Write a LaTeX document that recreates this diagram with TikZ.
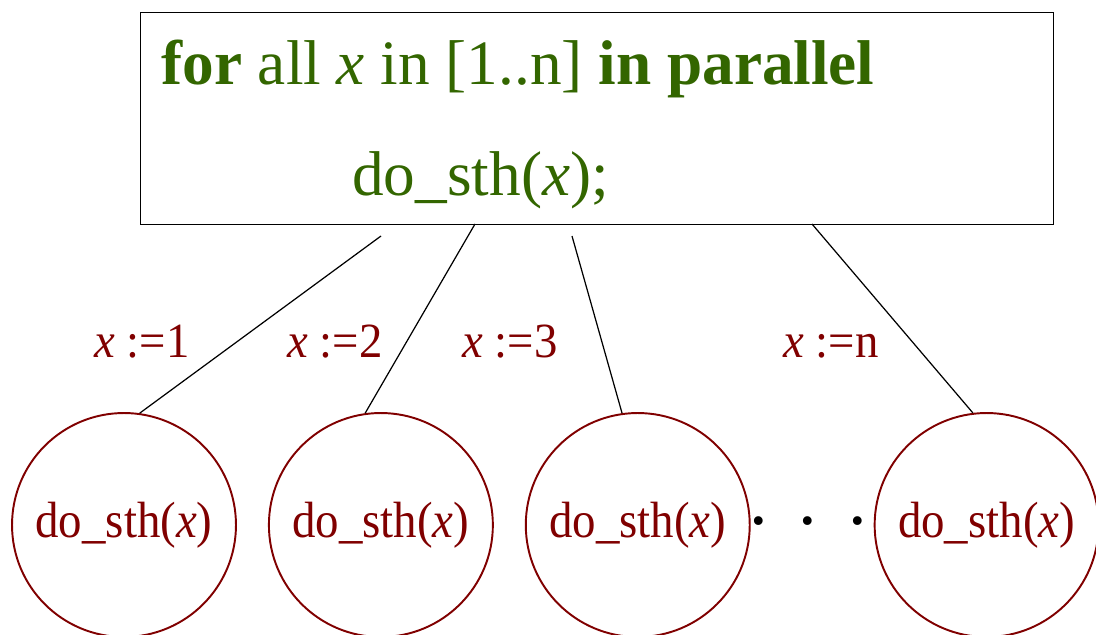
\documentclass[tikz,border=0pt]{standalone}
\usepackage{fontspec}
\setmainfont{Liberation Serif}
\usetikzlibrary{positioning}
\definecolor{codegreen}{RGB}{51,102,0}
\definecolor{taskred}{RGB}{128,0,0}

\begin{document}
\begin{tikzpicture}[
  x=0.02cm, y=-0.02cm,
  loopbox/.style={draw, line width=0.85pt, minimum width=18.26cm, minimum height=4.24cm, inner sep=0pt},
  code/.style={text=codegreen, inner sep=0pt, font=\fontsize{36}{40}\selectfont},
  task/.style={circle, draw=taskred, line width=1.1pt, minimum size=4.48cm, inner sep=0pt, text=taskred,
    font=\fontsize{29}{32}\selectfont\addfontfeature{FakeStretch=0.92}},
  assign/.style={text=taskred, inner sep=0pt, font=\fontsize{28}{31}\selectfont\addfontfeature{FakeStretch=0.95}},
  fork/.style={line width=0.7pt},
]
\useasboundingbox (0,0) rectangle (1096,635);

% parallel loop
\node[loopbox, anchor=north west] (loop) at (140,12) {};
\node[code, anchor=base west] (head) at (161,85) {\textbf{for} all \textit{x} in [1..n] \textbf{in parallel}};
\node[code, anchor=base west] (body) at (352,195) {do\_sth(\textit{x});};

% tasks
\node[task] (c1) at (124,525) {do\_sth(\textit{x})};
\node[task, right=0.62cm of c1] (c2) {do\_sth(\textit{x})};
\node[task, right=0.62cm of c2] (c3) {do\_sth(\textit{x})};
\node[task, right=2.46cm of c3] (c4) {do\_sth(\textit{x})};
\node[font=\fontsize{42}{42}\selectfont, inner sep=0pt, anchor=base] (dots) at (808,545) {\textperiodcentered\hspace{0.5cm}\textperiodcentered\hspace{0.5cm}\textperiodcentered};

% forks
\coordinate (t1) at (381,236);
\coordinate (t2) at (475,224);
\coordinate (t3) at (572,236);
\coordinate (t4) at (812,224);
\draw[fork] (t1) -- (c1.82);
\draw[fork] (t2) -- (c2.98);
\draw[fork] (t3) -- (c3.98);
\draw[fork] (t4) -- (c4.97);

% assignments
\node[assign, anchor=base] (l1) at (142,357) {\textit{x} :=1};
\node[assign, anchor=base] (l2) at (335,357) {\textit{x} :=2};
\node[assign, anchor=base] (l3) at (510,357) {\textit{x} :=3};
\node[assign, anchor=base] (l4) at (831,357) {\textit{x} :=n};

\end{tikzpicture}
\end{document}
